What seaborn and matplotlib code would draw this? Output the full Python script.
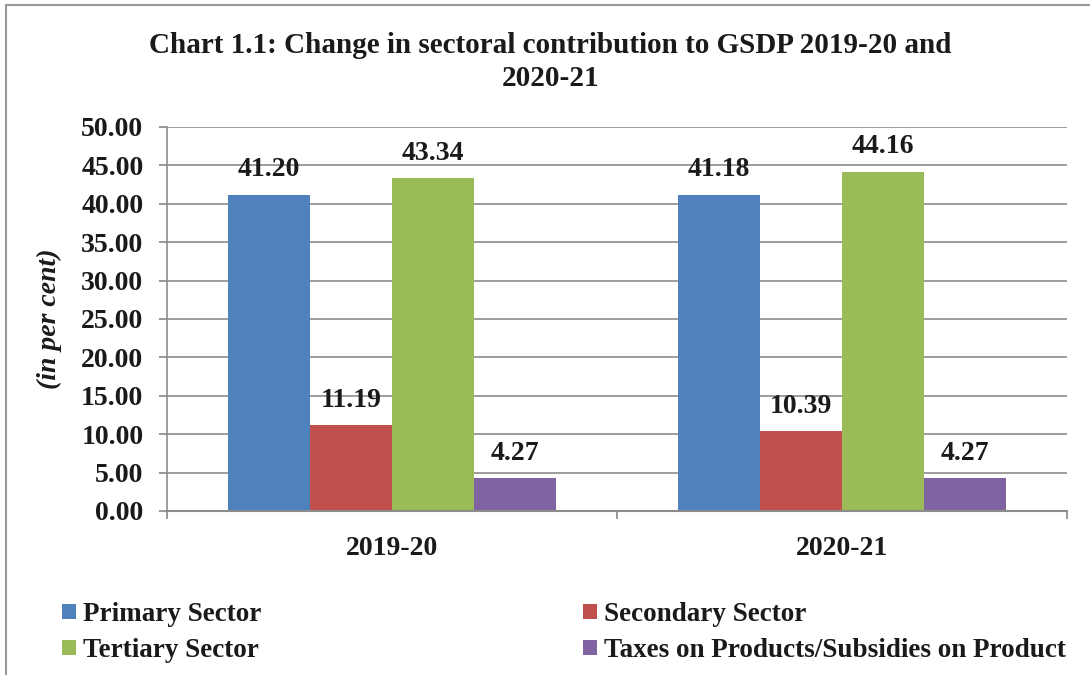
import matplotlib
matplotlib.use("Agg")
import matplotlib.pyplot as plt
import seaborn as sns
import pandas as pd
from matplotlib.patches import Rectangle, Patch

years = ["2019-20", "2020-21"]
sectors = ["Primary Sector", "Secondary Sector", "Tertiary Sector",
           "Taxes on Products/Subsidies on Product"]
primary = [41.20, 41.18]
secondary = [11.19, 10.39]
tertiary = [43.34, 44.16]
taxes = [4.27, 4.27]
colors = ["#4F81BD", "#C0504D", "#9BBB59", "#8064A2"]
yticks = [0, 5, 10, 15, 20, 25, 30, 35, 40, 45, 50]

rows = []
for s, vals in zip(sectors, [primary, secondary, tertiary, taxes]):
    for y, v in zip(years, vals):
        rows.append({"Year": y, "Sector": s, "Value": v})
df = pd.DataFrame(rows)

sns.set_theme(style="white")
plt.rcParams["font.family"] = ["Liberation Serif", "DejaVu Serif"]
plt.rcParams["font.weight"] = "bold"

fig = plt.figure(figsize=(10.9, 6.75), dpi=100)
ax = fig.add_axes([167/1090, 1-511/675, 900/1090, 384/675])

sns.barplot(data=df, x="Year", y="Value", hue="Sector", hue_order=sectors,
            order=years, palette=colors, ax=ax, width=0.73, saturation=1,
            edgecolor="none", linewidth=0, legend=False)

for cont in ax.containers:
    ax.bar_label(cont, fmt="%.2f", padding=9, fontsize=20, fontweight="bold",
                 color="#1a1a1a")

ax.set_ylim(0, 50)
ax.set_xlim(-0.5, 1.5)
ax.set_yticks(yticks)
ax.set_yticklabels([f"{t:.2f}" for t in yticks], fontsize=20, fontweight="bold",
                   color="#1a1a1a")
ax.set_xticks([0, 1])
ax.set_xticklabels(years, fontsize=20, fontweight="bold", color="#1a1a1a")
ax.tick_params(axis="x", length=0, pad=18)
ax.set_xticks([-0.5, 0.5, 1.5], minor=True)
ax.tick_params(axis="x", which="minor", length=6, color="#888888", width=1.2,
               direction="out", bottom=True)
ax.tick_params(axis="y", length=6, color="#888888", width=1.2, direction="out",
               left=True, pad=11)
ax.yaxis.grid(True, color="#8c8c8c", linewidth=1.2)
ax.set_axisbelow(True)
for side in ["top", "right"]:
    ax.spines[side].set_visible(False)
ax.spines["left"].set_color("#8c8c8c")
ax.spines["bottom"].set_color("#8c8c8c")
ax.spines["left"].set_linewidth(1.2)
ax.spines["bottom"].set_linewidth(1.5)
ax.set_xlabel("")
ax.set_ylabel("(in per cent)", fontsize=20, fontweight="bold", style="italic",
              color="#1a1a1a", labelpad=14)

fig.text(0.505, 1-62/675, "Chart 1.1: Change in sectoral contribution to GSDP 2019-20 and\n2020-21",
         ha="center", va="center", fontsize=21, fontweight="bold", color="#1a1a1a",
         linespacing=1.32)

handles = [Patch(facecolor=c, edgecolor="none") for c in colors]
leg_kw = dict(frameon=False, fontsize=19.5, handlelength=0.5, handleheight=0.5,
              handletextpad=0.27, labelspacing=0.4, borderaxespad=0,
              borderpad=0)
l1 = fig.legend([handles[0], handles[2]], [sectors[0], sectors[2]],
                loc="upper left", bbox_to_anchor=(62/1090, 1-602/675), **leg_kw)
l2 = fig.legend([handles[1], handles[3]], [sectors[1], sectors[3]],
                loc="upper left", bbox_to_anchor=(583/1090, 1-602/675), **leg_kw)
for l in (l1, l2):
    for t in l.get_texts():
        t.set_fontweight("bold")
        t.set_color("#1a1a1a")

fig.patches.append(Rectangle((6/1090, -0.1), 1.2, 1-5/675+0.1, transform=fig.transFigure,
                             fill=False, edgecolor="#999999", linewidth=1.5))

fig.savefig("out.png", dpi=100)
